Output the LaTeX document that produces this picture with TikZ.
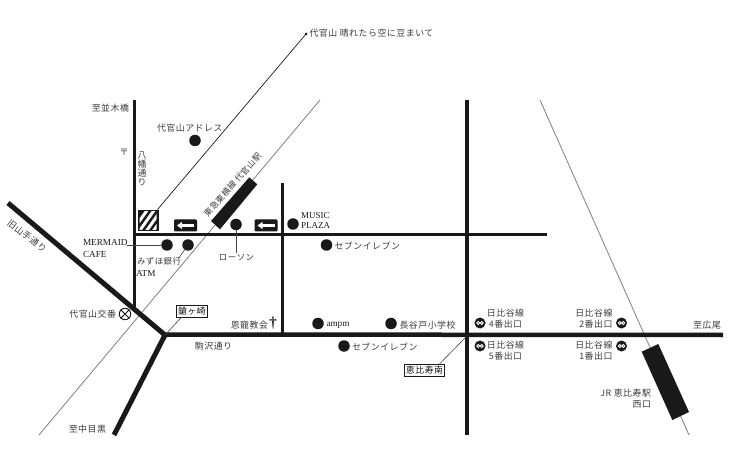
\documentclass[tikz,border=0pt]{standalone}
\usepackage{fontspec}
\setmainfont{Liberation Serif}
\newfontfamily\jp[LetterSpace=6]{Noto Sans CJK JP}
\usetikzlibrary{calc}
\definecolor{ink}{gray}{0.1}
\definecolor{railgray}{gray}{0.5}
\tikzset{
  x=1pt,y=-1pt,
  lbl/.style={font=\jp\fontsize{8.9}{11}\selectfont,text=ink!85,inner sep=0pt,outer sep=0pt},
  lat/.style={font=\fontsize{9.2}{11.5}\selectfont,text=ink,inner sep=0pt,outer sep=0pt,align=left},
  road/.style={draw=ink,line cap=butt},
  rail/.style={draw=railgray,line width=0.8pt},
  leader/.style={draw=ink!80,line width=0.6pt},
  spot/.style={circle,fill=ink,minimum size=11.5pt,inner sep=0pt},
  station/.style={fill=ink,draw=none},
  tagbox/.style={draw=ink,line width=0.7pt,fill=white,inner sep=1.6pt,font=\jp\fontsize{8.9}{10}\selectfont,text=ink},
  arrowbox/.style={draw=ink,line width=1pt,rounded corners=0.8pt,fill=ink,minimum width=22pt,minimum height=11pt,inner sep=0pt},
  metro/.style={circle,fill=ink,minimum size=11pt,inner sep=0pt},
}
\newcommand{\metroglyph}[1]{%
  \draw[white,line width=0.8pt] ($(#1)+(-1.7,0)$) circle (1.5);
  \draw[white,line width=0.8pt] ($(#1)+(1.7,0)$) circle (1.5);}
\begin{document}
\begin{tikzpicture}
\useasboundingbox (0,0) rectangle (733,454);
\fill[white] (0,0) rectangle (733,454);
% rails
\coordinate (railAa) at (39,435); \coordinate (railAb) at (320,100);
\coordinate (railBa) at (540,100); \coordinate (railBb) at (689,435);
\draw[rail] (railAa) -- (railAb);
\draw[rail] (railBa) -- (railBb);
% roads
\coordinate (yama) at (8,203); \coordinate (jct) at (165,335); \coordinate (naka) at (114,435);
\coordinate (hirotop) at (134,100); \coordinate (hirobot) at (134,307);
\coordinate (koR) at (723,335);
\draw[road,line width=3pt] (hirotop) -- (hirobot);
\draw[road,line width=3pt] (134,235) -- (547,235);
\draw[road,line width=3pt] (282,183) -- (282,335);
\draw[road,line width=4pt] (467,100) -- (467,435);
\draw[road,line width=5pt,line join=miter] (yama) -- (jct) -- (naka);
\draw[road,line width=4.5pt] (163,334.5) -- (koR);
% stations
\fill[station] (211,221) -- (249.3,177.3) -- (257.3,184.3) -- (220,229.3) -- cycle;
\fill[station] (641.7,351.7) -- (658.3,344) -- (689,412) -- (672.3,420) -- cycle;
% hatch box and thin line
\coordinate (topdot) at (306,34);
\node[draw=ink,line width=2pt,fill=ink,minimum width=19pt,minimum height=19.5pt,inner sep=0pt] (hatch) at (148,220.5) {};
\draw[ink,line width=0.7pt] (157.5,209.5) -- (topdot);
\fill[ink] (topdot) circle (1.5);
\begin{scope}
\clip (139.5,211.5) rectangle (156.5,229.5);
\foreach \d in {0,7,14,21,28}
  \draw[white,line width=3pt] (131+\d,233) -- (148+\d,209);
\end{scope}
% arrow boxes
\node[arrowbox] (arrA) at (185.5,225.5) {};
\node[arrowbox] (arrB) at (266,225.5) {};
\foreach \n in {arrA,arrB}{
  \draw[white,line width=2.2pt] ($(\n)+(8.5,0)$) -- ($(\n)+(-4,0)$);
  \fill[white] ($(\n)+(-8.5,0)$) -- ($(\n)+(-3.5,-3.6)$) -- ($(\n)+(-3.5,3.6)$) -- cycle;
}
% spots
\node[spot] (addr) at (195,140.5) {};
\node[spot] (mermaid) at (167,245) {};
\node[spot] (mizuho) at (188,245) {};
\node[spot] (lawson) at (236,224.5) {};
\node[spot] (music) at (293,224) {};
\node[spot] (seven) at (326.5,245) {};
\node[spot] (ampm) at (318,323.5) {};
\node[spot] (hase) at (391,323.5) {};
\node[spot] (sevenb) at (344,346) {};
% koban
\node[circle,draw=ink,line width=0.9pt,fill=white,minimum size=11.5pt,inner sep=0pt] (koban) at (125,314) {};
\draw[ink,line width=0.8pt] (koban.north west) -- (koban.south east);
\draw[ink,line width=0.8pt] (koban.north east) -- (koban.south west);
% metro
\node[metro] (m4) at (480,323) {}; \metroglyph{m4}
\node[metro] (m2) at (621.5,323) {}; \metroglyph{m2}
\node[metro] (m5) at (480,346) {}; \metroglyph{m5}
\node[metro] (m1) at (621.5,346) {}; \metroglyph{m1}
% labels
\node[lbl,anchor=west] (tTop) at (309.5,33.5) {代官山 晴れたら空に豆まいて};
\node[lbl,anchor=east] (tNami) at (129,108) {至並木橋};
\node[lbl,anchor=west] (tAddr) at (157,128.5) {代官山アドレス};
\node[lbl] (tPost) at (124,152) {〒};
\node[lbl,align=center,font=\jp\fontsize{8.9}{9}\selectfont] (tHachi) at (142,169) {八\\幡\\通\\り};
\node[lbl,rotate=48.5,font=\jp\fontsize{8.4}{10}\selectfont] (tToku) at (232.5,185) {東急東横線 代官山駅};
\node[lbl,rotate=-38] (tKyu) at (27,236) {旧山手通り};
\node[lat,anchor=north west] (tMerm) at (83,239) {MERMAID\\[0.5pt]CAFE};
\node[lbl,anchor=west,font=\jp\fontsize{8.4}{10}\selectfont] (tMizu) at (137,261.5) {みずほ銀行};
\node[lat,anchor=west] (tAtm) at (136,273.5) {ATM};
\node[lbl,font=\jp\fontsize{8.4}{10}\selectfont] (tLaw) at (236.5,258) {ローソン};
\node[lat,anchor=north west,font=\fontsize{9}{10}\selectfont] (tMusic) at (301,212.5) {MUSIC\\PLAZA};
\node[lbl,anchor=west] (tSev) at (334.5,245.5) {セブンイレブン};
\node[lat,anchor=west] (tAmpm) at (326.5,325) {ampm};
\node[lbl,anchor=west] (tHase) at (399.5,325) {長谷戸小学校};
\node[lbl,anchor=west] (tSevb) at (352,346.5) {セブンイレブン};
\node[lbl,anchor=east] (tKoban) at (116,314.5) {代官山交番};
\node[tagbox] (tKaga) at (192,311.5) {鎗ヶ崎};
\node[tagbox] (tEbi) at (424.5,370.5) {恵比寿南};
\node[lbl,anchor=east] (tChurch) at (268,325.5) {恩寵教会};
\node[lat,font=\bfseries\fontsize{15}{15}\selectfont] (tCross) at (273,323) {†};
\node[lbl] (tKoma) at (213.5,346) {駒沢通り};
\node[lbl,anchor=east] (tNaka) at (106,429.5) {至中目黒};
\node[lbl,align=center] (tM4) at (505.5,318.5) {日比谷線\\4番出口};
\node[lbl,align=center] (tM5) at (505.5,351) {日比谷線\\5番出口};
\node[lbl,align=right,anchor=east] (tM2) at (612.5,318.5) {日比谷線\\2番出口};
\node[lbl,align=right,anchor=east] (tM1) at (612.5,351) {日比谷線\\1番出口};
\node[lbl,anchor=east] (tHiroo) at (721,325.5) {至広尾};
\node[lbl,align=right,anchor=east] (tJR) at (651,399) {JR 恵比寿駅\\西口};
% leaders
\draw[leader] (tMerm.east |- mermaid) -- (mermaid);
\draw[leader] (mizuho) -- (178,259);
\draw[leader] (lawson) -- (236,253);
\draw[leader] (tKaga.south west) ++(5,0) -- (jct);
\draw[leader] (tEbi.north east) ++(-6,0) -- (466,337);
\end{tikzpicture}
\end{document}
